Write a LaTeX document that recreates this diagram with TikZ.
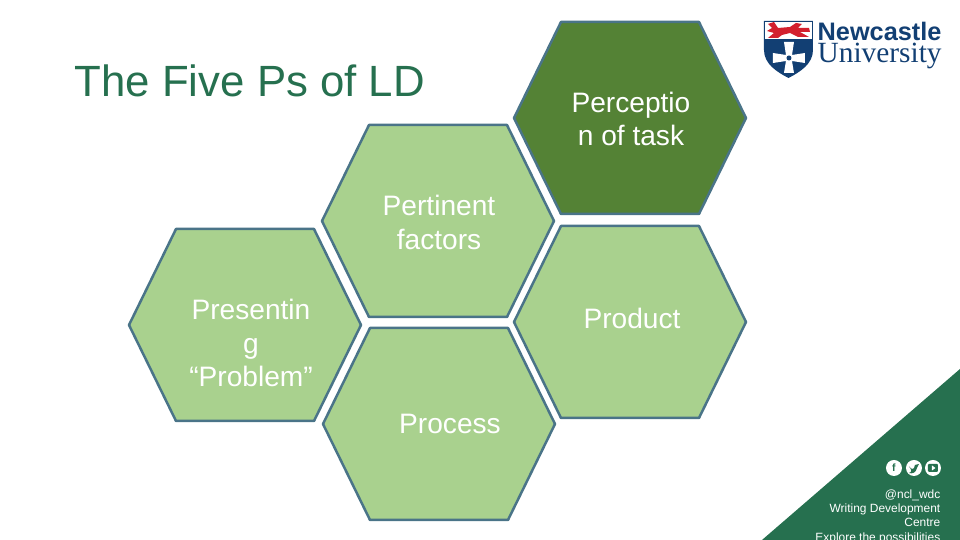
\documentclass[tikz,border=0pt]{standalone}
\usepackage{fontspec}
\setmainfont{Liberation Sans}
\newfontfamily\logoserif{Liberation Serif}
\definecolor{ldgreen}{HTML}{26704F}
\definecolor{celllight}{HTML}{A9D18E}
\definecolor{celldark}{HTML}{548235}
\definecolor{cellline}{HTML}{4A7488}
\definecolor{logonavy}{HTML}{123F73}
\definecolor{logored}{HTML}{D3202E}
\tikzset{
	celltext/.style = {text = white, align = center, font = \fontsize{8}{9.5}\selectfont},
	footertext/.style = {text = white, align = right, anchor = north east, inner sep = 0, font = \fontsize{3.4}{4}\selectfont},
	lightcell/.style = {fill = celllight, draw = cellline, line width = 0.025cm, line join = round},
	darkcell/.style = {fill = celldark, draw = cellline, line width = 0.025cm, line join = round},
	iconball/.style = {circle, fill = white, minimum size = 0.16cm, inner sep = 0}
}
% left end of the hexagon at (#2,#3), 2.32 wide and 1.92 high
\newcommand{\hexcell}[3]{
	\draw[#1] (#2,#3) -- ++(0.47,0.96) -- ++(1.38,0) -- ++(0.47,-0.96) -- ++(-0.47,-0.96) -- ++(-1.38,0) -- cycle;
}
\begin{document}
\begin{tikzpicture}
	\useasboundingbox (0,0) rectangle (9.6,5.4);
	\clip (0,0) rectangle (9.6,5.4);

	% corner
	\fill[ldgreen] (7.62,0) -- (9.6,1.71) -- (9.6,0) -- cycle;

	% cells
	\hexcell{darkcell}{5.14}{4.22}
	\hexcell{lightcell}{3.22}{3.19}
	\hexcell{lightcell}{5.14}{2.18}
	\hexcell{lightcell}{1.29}{2.15}
	\hexcell{lightcell}{3.23}{1.16}

	\node[celltext] (perception) at (6.31,4.21) {Perceptio\\n of task};
	\node[celltext] (pertinent) at (4.39,3.175) {Pertinent\\factors};
	\node[celltext] (presenting) at (2.51,1.97) {Presentin\\g\\“Problem”};
	\node[celltext] (product) at (6.32,2.22) {Product};
	\node[celltext] (process) at (4.50,1.16) {Process};

	\node[anchor = west, inner sep = 0, text = ldgreen, font = \fontsize{12.45}{14}\selectfont] (title) at (0.74,4.59) {The Five Ps of LD};

	% shield
	\fill[logonavy] (7.64,5.19) -- (8.13,5.19) -- (8.13,4.90) .. controls (8.13,4.76) and (8.00,4.68) .. (7.885,4.62) .. controls (7.77,4.68) and (7.64,4.76) .. (7.64,4.90) -- cycle;
	\fill[white] (7.65,5.18) rectangle (8.12,5.01);
	\fill[logored] (7.68,5.16) -- (7.74,5.18) -- (7.78,5.12) -- (7.90,5.13) -- (7.96,5.17) -- (8.02,5.16) -- (7.98,5.12) -- (8.09,5.12) -- (8.10,5.08) -- (8.00,5.08) -- (8.09,5.03) -- (7.98,5.03) -- (7.90,5.07) -- (7.82,5.05) -- (7.78,5.02) -- (7.68,5.02) -- (7.74,5.07) -- (7.67,5.09) -- (7.72,5.12) -- cycle;
	\fill[white] (7.84,4.98) -- (7.94,4.98) -- (7.92,4.85) -- (8.05,4.87) -- (8.05,4.77) -- (7.92,4.79) -- (7.94,4.67) -- (7.84,4.67) -- (7.86,4.79) -- (7.73,4.77) -- (7.73,4.87) -- (7.86,4.85) -- cycle;
	\fill[logonavy] (7.89,4.82) circle (0.025);

	\node[anchor = base west, inner sep = 0, text = logonavy, font = \fontsize{7.2}{8}\bfseries\selectfont] (logotop) at (8.17,4.99) {Newcastle};
	\node[anchor = base west, inner sep = 0, text = logonavy, font = \logoserif\fontsize{8.35}{9}\selectfont] (logobottom) at (8.17,4.77) {University};

	% footer
	\node[iconball] (facebook) at (8.94,0.72) {};
	\node[iconball] (twitter) at (9.14,0.72) {};
	\node[iconball] (youtube) at (9.33,0.72) {};
	\node[text = ldgreen, inner sep = 0, font = \fontsize{3}{3}\bfseries\selectfont] at (facebook) {f};
	\fill[ldgreen] (9.09,0.735) .. controls (9.12,0.70) and (9.14,0.70) .. (9.15,0.75) -- (9.19,0.76) -- (9.17,0.72) .. controls (9.16,0.67) and (9.12,0.66) .. (9.09,0.67) .. controls (9.12,0.68) and (9.12,0.70) .. (9.09,0.735) -- cycle;
	\fill[ldgreen, rounded corners = 0.01cm] (9.28,0.68) rectangle (9.38,0.76);
	\fill[white] (9.32,0.695) -- (9.32,0.745) -- (9.355,0.72) -- cycle;

	\node[footertext] (footer) at (9.41,0.505) {@ncl\_wdc\\Writing Development\\Centre\\Explore the possibilities};
\end{tikzpicture}
\end{document}
